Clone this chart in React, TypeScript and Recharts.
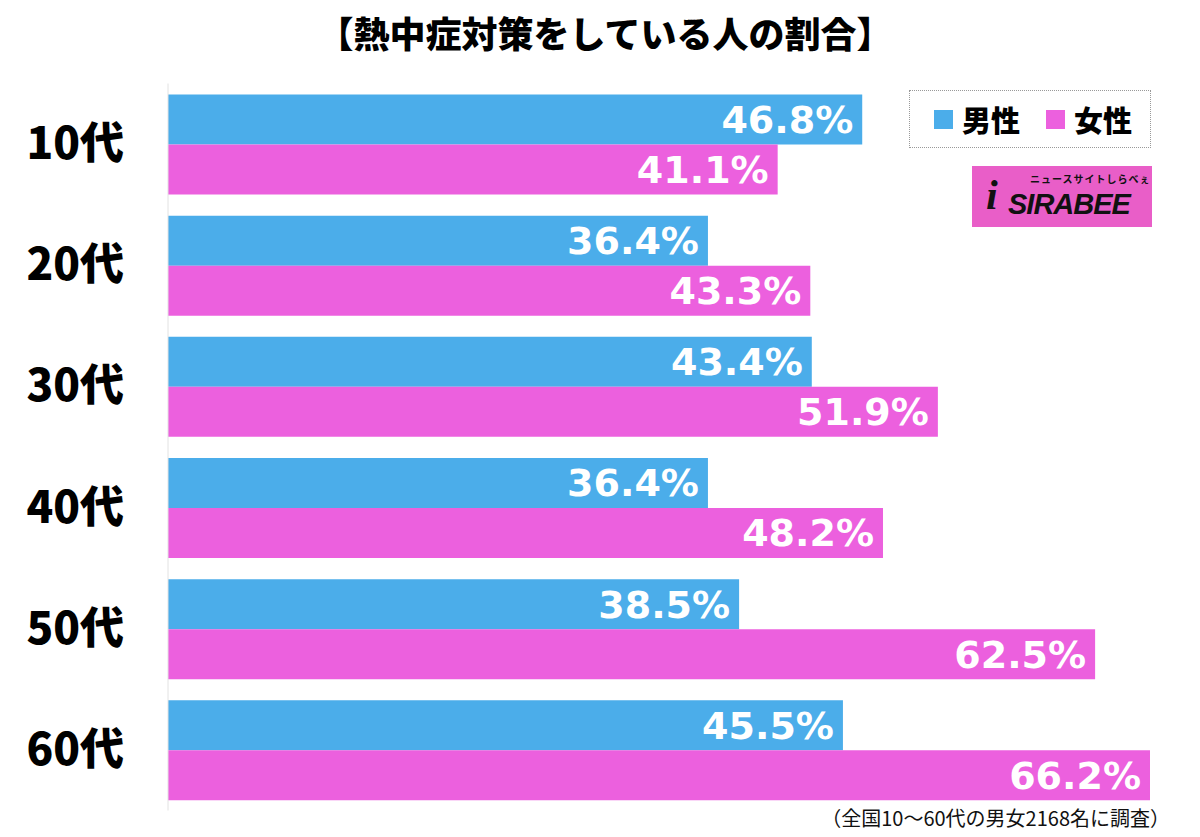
import React from "react"
import { BarChart, Bar, XAxis, YAxis, LabelList } from "recharts"

const ages = ["10代", "20代", "30代", "40代", "50代", "60代"]
const male = [46.8, 36.4, 43.4, 36.4, 38.5, 45.5]
const female = [41.1, 43.3, 51.9, 48.2, 62.5, 66.2]

const BLUE = "#4badea"
const PINK = "#ec60de"
const JP = '"Noto Sans CJK JP", "Noto Sans", sans-serif'
const NUM = '"DejaVu Sans", "Liberation Sans", sans-serif'

const data = ages.map((age, i) => ({ age, male: male[i], female: female[i] }))

const AgeTick = (props: any) => {
    const { y, payload } = props
    return (
        <text x={124} y={y} dy={15} textAnchor="end" fontSize={44} fontWeight={900} fill="#000" fontFamily={JP}>
            {payload.value}
        </text>
    )
}

const fmt = (v: any) => `${Number(v).toFixed(1)}%`

export default function App() {
    return (
        <div style={{ position: "absolute", left: 0, top: 0, width: 1200, height: 837, background: "#fff", fontFamily: JP }}>
            <div style={{ position: "absolute", left: 0, top: 8, width: 1210, textAlign: "center", fontSize: 36, fontWeight: 900, color: "#000", lineHeight: "48px" }}>
                【熱中症対策をしている人の割合】
            </div>

            <BarChart
                width={1200}
                height={837}
                data={data}
                layout="vertical"
                margin={{ top: 83.5, right: 50, bottom: 26.5, left: 0 }}
                barGap={0}
                barSize={50}
            >
                <XAxis type="number" domain={[0, "dataMax"]} hide />
                <YAxis
                    type="category"
                    dataKey="age"
                    width={168}
                    tickLine={false}
                    axisLine={{ stroke: "#e2e2e2", strokeWidth: 1 }}
                    tick={<AgeTick />}
                />
                <Bar dataKey="male" fill={BLUE} isAnimationActive={false}>
                    <LabelList dataKey="male" position="insideRight" offset={9} formatter={fmt} fill="#fff" fontSize={38} fontWeight={700} fontFamily={NUM} />
                </Bar>
                <Bar dataKey="female" fill={PINK} isAnimationActive={false}>
                    <LabelList dataKey="female" position="insideRight" offset={9} formatter={fmt} fill="#fff" fontSize={38} fontWeight={700} fontFamily={NUM} />
                </Bar>
            </BarChart>

            {/* legend box */}
            <div style={{ position: "absolute", left: 909, top: 90, width: 242, height: 58, border: "1px dotted #999", boxSizing: "border-box", display: "flex", alignItems: "center", paddingLeft: 24 }}>
                <span style={{ width: 19, height: 19, background: BLUE, display: "inline-block" }} />
                <span style={{ fontSize: 29, fontWeight: 900, marginLeft: 9, marginRight: 26 }}>男性</span>
                <span style={{ width: 19, height: 19, background: PINK, display: "inline-block" }} />
                <span style={{ fontSize: 29, fontWeight: 900, marginLeft: 9 }}>女性</span>
            </div>

            {/* logo */}
            <div style={{ position: "absolute", left: 972, top: 166, width: 180, height: 61, background: "#e95ec8", overflow: "hidden" }}>
                <div style={{ position: "absolute", left: 58, top: 7, fontSize: 10, lineHeight: "12px", fontWeight: 700, color: "#111", letterSpacing: 1 }}>ニュースサイトしらべぇ</div>
                <div style={{ position: "absolute", left: 14, top: 4, fontSize: 42, lineHeight: "50px", fontWeight: 900, color: "#111", fontFamily: '"Liberation Serif", serif', fontStyle: "italic" }}>i</div>
                <div style={{ position: "absolute", left: 36, top: 22, fontSize: 29, lineHeight: "32px", fontWeight: 900, color: "#111", fontStyle: "italic", fontFamily: '"Liberation Sans", Arial, sans-serif', letterSpacing: -1 }}>SIRABEE</div>
            </div>

            <div style={{ position: "absolute", right: 30, top: 803, fontSize: 20, color: "#111", whiteSpace: "nowrap" }}>
                （全国10〜60代の男女2168名に調査）
            </div>
        </div>
    )
}
